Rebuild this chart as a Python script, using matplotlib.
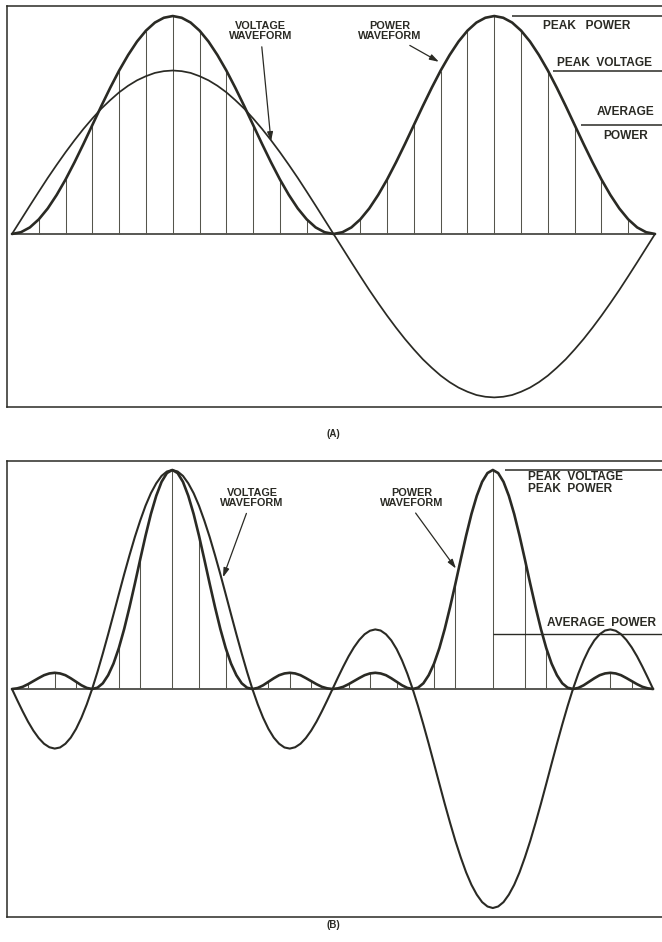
import numpy as np
import matplotlib
matplotlib.use('Agg')
import matplotlib.pyplot as plt

plt.rcParams['font.family'] = ['Liberation Sans Narrow', 'Liberation Sans', 'DejaVu Sans']
plt.rcParams['font.weight'] = 'bold'

INK = '#2a2a24'

# readings over the first quarter cycle (0..90 deg), amplitude relative to peak power.
# both waveforms are symmetric about 90 deg; in the second half cycle the voltage
# flips sign and the power repeats.
step_a = 5
volt_a_q = [0, .065, .130, .194, .257, .317, .375, .430, .482, .530,
            .575, .614, .650, .680, .705, .724, .739, .747, .750]
power_a_q = [0, .008, .030, .067, .117, .179, .250, .329, .413, .500,
             .587, .671, .750, .821, .883, .933, .970, .992, 1.0]

step_b = 3
volt_b_q = [0, -.052, -.102, -.149, -.190, -.224, -.250, -.266, -.272, -.267,
            -.250, -.222, -.182, -.131, -.070, 0, .078, .162, .250, .341,
            .433, .524, .611, .694, .769, .837, .894, .939, .973, .993, 1.0]
power_b_q = [0, .003, .010, .022, .036, .050, .063, .071, .074, .071, .063,
             .049, .033, .017, .005, 0, .006, .026, .063, .116, .187, .274,
             .374, .481, .592, .700, .799, .882, .946, .986, 1.0]

# vertical hatch lines (degrees)
hatch_a = [15, 30, 45, 60, 75, 90, 105, 120, 135, 150, 165,
           195, 210, 225, 240, 255, 270, 285, 300, 315, 330, 345]
hatch_b = [9, 24, 36, 60, 72, 90, 105, 120, 144, 156, 168,
           189, 201, 216, 237, 249, 270, 288, 300, 336, 348]


def full_cycle(q, flip):
    q = np.asarray(q, float)
    half = np.concatenate([q, q[-2::-1]])
    second = -half[1:] if flip else half[1:]
    return np.concatenate([half, second])


ang_a = np.arange(0, 361, step_a)
volt_a = full_cycle(volt_a_q, True)
power_a = full_cycle(power_a_q, False)
ang_b = np.arange(0, 361, step_b)
volt_b = full_cycle(volt_b_q, True)
power_b = full_cycle(power_b_q, False)

W, H = 662, 942
fig = plt.figure(figsize=(W / 100, H / 100), dpi=100)
fig.patch.set_facecolor('white')


def make_axes(top, bottom):
    ax = fig.add_axes([7 / W, 1 - bottom / H, 1 - 7 / W, (bottom - top) / H])
    ax.set_xticks([])
    ax.set_yticks([])
    ax.spines['right'].set_visible(False)
    for s in ['left', 'top', 'bottom']:
        ax.spines[s].set_linewidth(1.1)
        ax.spines[s].set_color(INK)
    return ax


def draw_panel(ax, ang, volt, power, hatches, vlw):
    ax.hlines(0, ang[0], ang[-1], color=INK, lw=1.1)
    ax.vlines(hatches, 0, np.interp(hatches, ang, power), color='#55554c', lw=0.75)
    ax.plot(ang, volt, color=INK, lw=vlw, solid_joinstyle='round', solid_capstyle='round')
    ax.plot(ang, power, color=INK, lw=1.9, solid_joinstyle='round', solid_capstyle='round')


arrow = dict(arrowstyle='-|>,head_length=0.7,head_width=0.22', color=INK, lw=0.9,
             shrinkA=2, shrinkB=0)
fs = 7.8
fr = 8.6

# ---- (A)
axa = make_axes(6, 407)
axa.set_xlim(-2.8, 363.9)
axa.set_ylim(-0.794, 1.046)
draw_panel(axa, ang_a, volt_a, power_a, hatch_a, 1.25)

axa.annotate('VOLTAGE\nWAVEFORM', xy=(145, 0.425), xytext=(139, 0.93),
             ha='center', va='center', fontsize=fs, color=INK, linespacing=1.0,
             arrowprops=arrow)
axa.annotate('POWER\nWAVEFORM', xy=(239, 0.79), xytext=(211.5, 0.93),
             ha='center', va='center', fontsize=fs, color=INK, linespacing=1.0,
             arrowprops=dict(arrow, relpos=(0.7, 0)))

xr = axa.get_xlim()[1]
axa.hlines(power_a.max(), 280, xr, color=INK, lw=1.1, clip_on=False)
axa.text(297, 0.955, 'PEAK   POWER', fontsize=fr, color=INK, va='center')
axa.hlines(volt_a.max(), 303, xr, color=INK, lw=1.1, clip_on=False)
axa.text(305, 0.785, 'PEAK  VOLTAGE', fontsize=fr, color=INK, va='center')
avg_a = power_a[:-1].mean()
axa.hlines(avg_a, 318.5, xr, color=INK, lw=1.1, clip_on=False)
axa.text(343.5, avg_a + 0.03, 'AVERAGE', fontsize=fr, color=INK, ha='center', va='bottom')
axa.text(343.5, avg_a - 0.025, 'POWER', fontsize=fr, color=INK, ha='center', va='top')

fig.text(333 / W, 1 - 434 / H, '(A)', fontsize=7, color=INK, ha='center', va='center')

# ---- (B)
axb = make_axes(461, 917)
axb.set_xlim(-2.8, 365.0)
axb.set_ylim(-1.041, 1.041)
draw_panel(axb, ang_b, volt_b, power_b, hatch_b, 1.5)

axb.annotate('VOLTAGE\nWAVEFORM', xy=(118.5, 0.51), xytext=(134.8, 0.872),
             ha='center', va='center', fontsize=fs, color=INK, linespacing=1.0,
             arrowprops=arrow)
axb.annotate('POWER\nWAVEFORM', xy=(249.3, 0.55), xytext=(224.6, 0.872),
             ha='center', va='center', fontsize=fs, color=INK, linespacing=1.0,
             arrowprops=dict(arrow, relpos=(0.5, 0)))

xr = axb.get_xlim()[1]
axb.hlines(power_b.max(), 277, xr, color=INK, lw=1.1, clip_on=False)
axb.text(289.5, 0.94, 'PEAK  VOLTAGE\nPEAK  POWER', fontsize=fr, color=INK,
         va='center', linespacing=0.95)
avg_b = power_b[:-1].mean()
half_b = len(power_b) // 2
axb.hlines(avg_b, ang_b[half_b + np.argmax(power_b[half_b:])], xr,
           color=INK, lw=1.0, clip_on=False)
axb.text(300.5, avg_b + 0.05, 'AVERAGE  POWER', fontsize=fr, color=INK, va='center')

fig.text(333 / W, 1 - 925 / H, '(B)', fontsize=7, color=INK, ha='center', va='center')

fig.savefig('out.png', dpi=100, facecolor='white')
